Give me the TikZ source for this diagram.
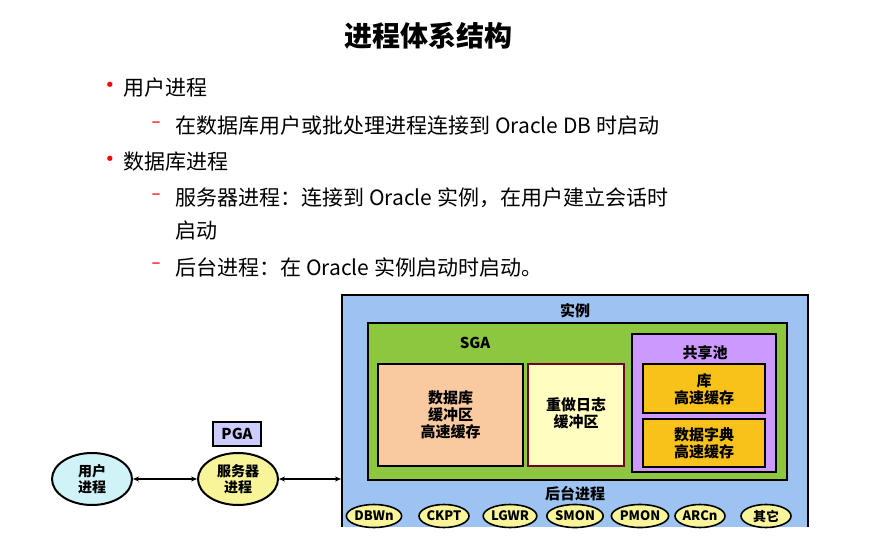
\documentclass[tikz,border=0pt]{standalone}
\usepackage{fontspec}
\setmainfont{Noto Sans CJK SC}
\newfontfamily\symf{DejaVu Sans}
\usetikzlibrary{shapes.geometric,arrows.meta}
\definecolor{instblue}{HTML}{9DC3F2}
\definecolor{sgagreen}{HTML}{8DC63F}
\definecolor{buf}{HTML}{F9C99F}
\definecolor{redo}{HTML}{FFFDC0}
\definecolor{pool}{HTML}{CC99FF}
\definecolor{gold}{HTML}{F9C21A}
\definecolor{cyanl}{HTML}{CFF3F7}
\definecolor{yel}{HTML}{F7F49A}
\definecolor{pga}{HTML}{CCCCFF}
\tikzset{x=1pt,y=-1pt,
 box/.style={draw=black,line width=2.2pt},
 lbl/.style={font=\bfseries\fontsize{15}{17}\selectfont,align=center},
 bt/.style={anchor=west,font=\fontsize{21}{25}\selectfont},
 mk/.style={text=red,font=\symf\fontsize{18}{22}\selectfont},
 proc/.style={ellipse,draw=black,line width=1.6pt,fill=yel,minimum width=50pt,minimum height=23pt,inner sep=0pt,font=\bfseries\fontsize{13}{14}\selectfont},
 big/.style={ellipse,draw=black,line width=2pt,minimum width=80pt,minimum height=52pt,inner sep=0pt,font=\bfseries\fontsize{14}{16}\selectfont,align=center},
 conn/.style={line width=1.5pt,{Stealth[length=6pt,width=5pt]}-{Stealth[length=6pt,width=5pt]}}}
\begin{document}
\begin{tikzpicture}
\useasboundingbox (0,0) rectangle (896,548);
\node[font=\bfseries\fontsize{28}{32}\selectfont] (title) at (428,36) {进程体系结构};
\node[mk] (b1) at (110,87) {•};
\node[bt] (t1) at (120,88) {用户进程};
\node[mk] (d1) at (156,125) {–};
\node[bt] (t2) at (172,126) {在数据库用户或批处理进程连接到 Oracle DB 时启动};
\node[mk] (b2) at (110,161) {•};
\node[bt] (t3) at (120,162) {数据库进程};
\node[mk] (d2) at (156,197) {–};
\node[bt] (t4) at (172,198) {服务器进程：连接到 Oracle 实例，在用户建立会话时};
\node[bt] (t5) at (172,231) {启动};
\node[mk] (d3) at (156,266) {–};
\node[bt] (t6) at (172,267) {后台进程：在 Oracle 实例启动时启动。};
% instance
\fill[instblue] (342,295) rectangle (808,527);
\draw[line width=2pt] (342,527) -- (342,295) -- (808,295) -- (808,527);
\node[lbl] (inst) at (575,311) {实例};
\draw[box,fill=sgagreen] (368,323) rectangle (787,480);
\node[lbl] (sga) at (475,343) {SGA};
\draw[box,fill=buf] (378,364) rectangle (523,466);
\node[lbl] (bc) at (450.5,415) {数据库\\缓冲区\\高速缓存};
\draw[line width=2pt,draw=purple!60!black,fill=redo] (528,364) rectangle (624,466);
\node[lbl] (rl) at (576,413) {重做日志\\缓冲区};
\draw[box,fill=pool] (632,334) rectangle (776,472);
\node[lbl] (sp) at (705,353) {共享池};
\draw[box,fill=gold] (643,364) rectangle (765,413);
\node[lbl] (lc) at (704,389) {库\\高速缓存};
\draw[box,fill=gold] (643,419) rectangle (765,467);
\node[lbl] (dc) at (704,443) {数据字典\\高速缓存};
\node[lbl] (bg) at (575,494) {后台进程};
\node[proc] (p1) at (374,516) {DBW\textit{n}};
\node[proc] (p2) at (444,516) {CKPT};
\node[proc] (p3) at (510,516) {LGWR};
\node[proc] (p4) at (575,516) {SMON};
\node[proc] (p5) at (640,516) {PMON};
\node[proc] (p6) at (700,516) {ARC\textit{n}};
\node[proc] (p7) at (766,516) {其它};
% left
\node[big,fill=cyanl] (user) at (92,479) {用户\\进程};
\node[big,fill=yel] (srv) at (238,479) {服务器\\进程};
\node[draw=black,line width=2pt,fill=pga,minimum width=48pt,minimum height=24pt,inner sep=0pt,font=\bfseries\fontsize{15}{17}\selectfont] (pga) at (237,434) {PGA};
\coordinate (ie) at (341,479);
\draw[conn] (user) -- (srv);
\draw[conn] (srv) -- (ie);
\end{tikzpicture}
\end{document}
